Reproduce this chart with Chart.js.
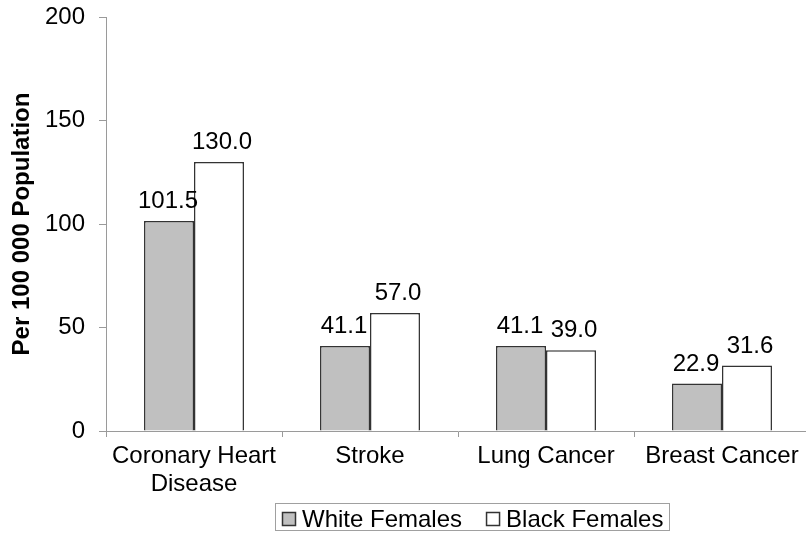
<!DOCTYPE html>
<html>
<head>
<meta charset="utf-8">
<script src="https://cdn.jsdelivr.net/npm/chart.js@4.4.0/dist/chart.umd.min.js"></script>
<style>
  html, body { margin: 0; padding: 0; background: #fff; overflow: hidden; }
  #wrap { width: 812px; height: 536px; }
</style>
</head>
<body>
<div id="wrap"><canvas id="chart"></canvas></div>
<script>
// Data
const categories = [['Coronary Heart', 'Disease'], 'Stroke', 'Lung Cancer', 'Breast Cancer'];
const seriesNames = ['White Females', 'Black Females'];
const whiteFemales = [101.5, 41.1, 41.1, 22.9];
const blackFemales = [130.0, 57.0, 39.0, 31.6];
const yTicks = [0, 50, 100, 150, 200];

const fontFamily = "'Liberation Sans', Arial, sans-serif";
Chart.defaults.font.family = fontFamily;
Chart.defaults.color = '#000';

const axisColor = '#9a9a9a';

// value labels above each bar (second series nudged right a little, as in the original)
const barLabels = {
    id: 'barLabels',
    afterDatasetsDraw(chart) {
        const ctx = chart.ctx;
        ctx.save();
        ctx.font = '24px ' + fontFamily;
        ctx.fillStyle = '#000';
        ctx.textAlign = 'center';
        ctx.textBaseline = 'alphabetic';
        chart.data.datasets.forEach((ds, i) => {
            const dx = i === 0 ? -1 : 3;
            chart.getDatasetMeta(i).data.forEach((bar, j) => {
                ctx.fillText(ds.data[j].toFixed(1), bar.x + dx, bar.y - 13);
            });
        });
        ctx.restore();
    }
};

// boxed legend under the plot, Excel style
const boxLegend = {
    id: 'boxLegend',
    afterDraw(chart) {
        const ctx = chart.ctx;
        ctx.save();
        ctx.font = '24px ' + fontFamily;
        const box = 14, gap = 6, itemGap = 24, padL = 7, padR = 6;
        const widths = chart.data.datasets.map(ds => ctx.measureText(ds.label).width);
        let total = padL + padR;
        widths.forEach((w, i) => { total += box + gap + w + (i ? itemGap : 0); });
        const left = Math.round(472 - total / 2);
        const top = 503, height = 27;
        ctx.strokeStyle = '#a0a0a0';
        ctx.lineWidth = 1;
        ctx.strokeRect(left + 0.5, top + 0.5, Math.round(total), height);
        let x = left + padL;
        chart.data.datasets.forEach((ds, i) => {
            if (i) x += itemGap;
            ctx.fillStyle = ds.backgroundColor;
            ctx.fillRect(x, top + 9, box, box);
            ctx.strokeStyle = '#333';
            ctx.lineWidth = 1.5;
            ctx.strokeRect(x + 0.5, top + 9.5, box - 1, box - 1);
            ctx.fillStyle = '#000';
            ctx.textBaseline = 'alphabetic';
            ctx.fillText(ds.label, x + box + gap, top + 24);
            x += box + gap + widths[i];
        });
        ctx.restore();
    }
};

new Chart(document.getElementById('chart'), {
    type: 'bar',
    data: {
        labels: categories,
        datasets: [
            {
                label: seriesNames[0],
                data: whiteFemales,
                backgroundColor: '#c0c0c0',
                borderColor: '#333',
                borderWidth: 1.5
            },
            {
                label: seriesNames[1],
                data: blackFemales,
                backgroundColor: '#ffffff',
                borderColor: '#333',
                borderWidth: 1.5
            }
        ]
    },
    options: {
        responsive: true,
        maintainAspectRatio: false,
        animation: false,
        layout: { padding: { top: 17, left: 0, right: 2, bottom: 40 } },
        datasets: {
            bar: { barPercentage: 1, categoryPercentage: 0.568 }
        },
        scales: {
            x: {
                grid: {
                    display: true, offset: true, drawOnChartArea: false,
                    drawTicks: true, tickLength: 6, color: axisColor
                },
                border: { color: axisColor, width: 1 },
                ticks: { font: { size: 24, lineHeight: 1.17 }, color: '#000', padding: 5, maxRotation: 0 },
                afterFit: (s) => { s.height = 65; s.paddingLeft = 0; s.paddingRight = 0; }
            },
            y: {
                min: 0,
                max: 200,
                afterBuildTicks: (axis) => { axis.ticks = yTicks.map(v => ({ value: v })); },
                grid: {
                    display: true, drawOnChartArea: false,
                    drawTicks: true, tickLength: 7, color: axisColor
                },
                border: { color: axisColor, width: 1 },
                ticks: { font: { size: 24 }, color: '#000', padding: 14 },
                title: {
                    display: true,
                    text: 'Per 100 000 Population',
                    font: { size: 24, weight: 'bold' },
                    color: '#000',
                    padding: { top: 8, bottom: 0 }
                },
                afterFit: (s) => { s.width = 106; s.paddingTop = 0; s.paddingBottom = 0; }
            }
        },
        plugins: {
            legend: { display: false },
            tooltip: { enabled: false }
        }
    },
    plugins: [barLabels, boxLegend]
});
</script>
</body>
</html>
